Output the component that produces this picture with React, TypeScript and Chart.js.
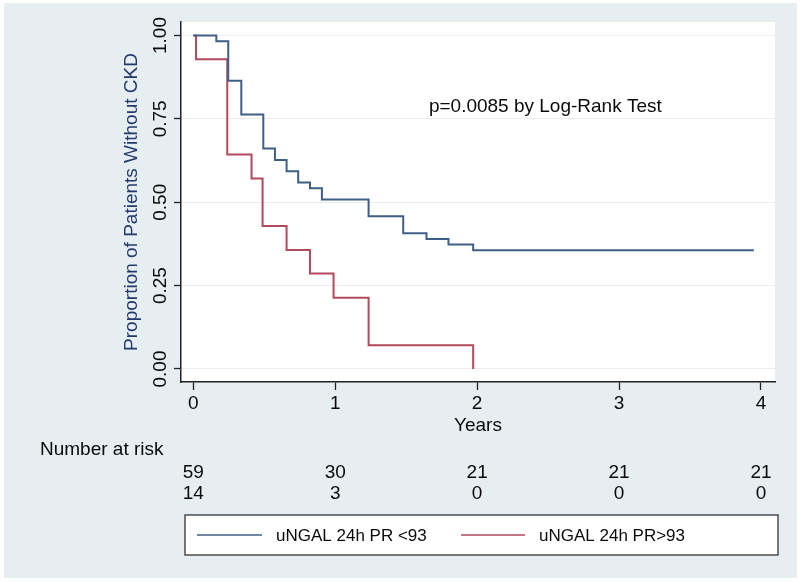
import React, { useEffect, useRef } from "react";
import { Chart, registerables } from "chart.js";

Chart.register(...registerables);

// ---- Data ----
const lowLabel = "uNGAL 24h PR <93";
const highLabel = "uNGAL 24h PR>93";

const lowTimes = [0, 0.162, 0.246, 0.338, 0.493, 0.575, 0.657, 0.739, 0.822, 0.906, 1.235, 1.479, 1.643, 1.798, 1.972, 3.95];
const lowSurv = [1, 0.983, 0.864, 0.763, 0.661, 0.627, 0.593, 0.559, 0.542, 0.508, 0.458, 0.407, 0.39, 0.373, 0.356, 0.356];

const highTimes = [0, 0.019, 0.239, 0.41, 0.488, 0.657, 0.822, 0.988, 1.235, 1.972];
const highSurv = [1, 0.929, 0.643, 0.571, 0.429, 0.357, 0.286, 0.214, 0.071, 0];

const xTicks = [0, 1, 2, 3, 4];
const yTicks = [0, 0.25, 0.5, 0.75, 1];

const riskTimes = [0, 1, 2, 3, 4];
const riskLow = [59, 30, 21, 21, 21];
const riskHigh = [14, 3, 0, 0, 0];

const pText = "p=0.0085 by Log-Rank Test";
const pTextX = 1.66;
const pTextY = 0.77;

const BLUE = "#3f5f86";
const RED = "#b24a5c";
const BG = "#e6eef2";
const TEXT = "#0a0a0a";
const FONT = "'Liberation Sans', Arial, Helvetica, sans-serif";

const decorPlugin = {
  id: "decor",
  beforeDraw(chart: any) {
    const { ctx, chartArea } = chart;
    ctx.save();
    ctx.fillStyle = "#ffffff";
    ctx.fillRect(0, 0, chart.width, chart.height);
    ctx.fillStyle = BG;
    ctx.fillRect(4, 3, 793, 575);
    ctx.fillStyle = "#ffffff";
    ctx.fillRect(chartArea.left, chartArea.top, chartArea.right - chartArea.left, chartArea.bottom - chartArea.top);
    ctx.restore();
  },
  afterDraw(chart: any) {
    const { ctx } = chart;
    const xs = chart.scales.x;
    const ys = chart.scales.y;
    ctx.save();
    // y tick labels, rotated
    ctx.fillStyle = TEXT;
    ctx.font = `19px ${FONT}`;
    ctx.textAlign = "center";
    ctx.textBaseline = "middle";
    yTicks.forEach((v) => {
      const y = ys.getPixelForValue(v);
      ctx.save();
      ctx.translate(ys.right - 20.5, y);
      ctx.rotate(-Math.PI / 2);
      ctx.fillText(v.toFixed(2), 0, 0);
      ctx.restore();
    });
    // p-value annotation
    ctx.textAlign = "left";
    ctx.textBaseline = "alphabetic";
    ctx.fillText(pText, xs.getPixelForValue(pTextX), ys.getPixelForValue(pTextY));
    // Number at risk
    ctx.textBaseline = "middle";
    ctx.fillText("Number at risk", 40, 450);
    ctx.textAlign = "center";
    riskTimes.forEach((t, i) => {
      const x = xs.getPixelForValue(t);
      ctx.fillText(String(riskLow[i]), x, 473);
      ctx.fillText(String(riskHigh[i]), x, 494);
    });
    // Legend
    const bx = 185, by = 515, bw = 593, bh = 40;
    ctx.fillStyle = "#ffffff";
    ctx.fillRect(bx, by, bw, bh);
    ctx.strokeStyle = "#333";
    ctx.lineWidth = 1.3;
    ctx.strokeRect(bx, by, bw, bh);
    const ds = chart.data.datasets;
    const items = [
      { x1: 197, x2: 262, tx: 276 },
      { x1: 461, x2: 525, tx: 539 },
    ];
    ctx.font = `17px ${FONT}`;
    ctx.textAlign = "left";
    ctx.textBaseline = "middle";
    items.forEach((it, i) => {
      ctx.strokeStyle = ds[i].borderColor;
      ctx.lineWidth = 1.6;
      ctx.beginPath();
      ctx.moveTo(it.x1, by + bh / 2);
      ctx.lineTo(it.x2, by + bh / 2);
      ctx.stroke();
      ctx.fillStyle = TEXT;
      ctx.fillText(ds[i].label, it.tx, by + bh / 2 + 1);
    });
    ctx.restore();
  },
};

export default function App() {
  const ref = useRef<HTMLCanvasElement | null>(null);
  useEffect(() => {
    document.body.style.margin = "0";
    if (!ref.current) return;
    Chart.defaults.font.family = FONT;
    const chart = new Chart(ref.current, {
      type: "line",
      data: {
        datasets: [
          {
            label: lowLabel,
            data: lowTimes.map((t, i) => ({ x: t, y: lowSurv[i] })),
            stepped: "before",
            borderColor: BLUE,
            borderWidth: 2,
            pointRadius: 0,
            fill: false,
          },
          {
            label: highLabel,
            data: highTimes.map((t, i) => ({ x: t, y: highSurv[i] })),
            stepped: "before",
            borderColor: RED,
            borderWidth: 2,
            pointRadius: 0,
            fill: false,
          },
        ],
      },
      options: {
        animation: false,
        responsive: false,
        maintainAspectRatio: false,
        layout: { padding: { left: 118, top: 22, right: 25, bottom: 143 } },
        plugins: { legend: { display: false }, tooltip: { enabled: false } },
        scales: {
          x: {
            type: "linear",
            min: -0.087,
            max: 4.099,
            afterBuildTicks: (s: any) => {
              s.ticks = xTicks.map((v) => ({ value: v }));
            },
            afterFit: (s: any) => {
              s.height = 57;
            },
            grid: { drawOnChartArea: false, drawTicks: true, tickLength: 8, tickColor: "#222", tickWidth: 1.3 },
            border: { display: true, color: "#222", width: 1.5 },
            ticks: { color: TEXT, font: { size: 19 }, padding: 2, maxRotation: 0, minRotation: 0, callback: (v: any) => String(v) },
            title: { display: true, text: "Years", color: TEXT, font: { size: 19 }, padding: { top: 0, bottom: 2 } },
          },
          y: {
            type: "linear",
            min: -0.039,
            max: 1.0405,
            afterBuildTicks: (s: any) => {
              s.ticks = yTicks.map((v) => ({ value: v }));
            },
            afterFit: (s: any) => {
              s.width = 63;
            },
            grid: { color: "#ececec", lineWidth: 1, drawTicks: true, tickLength: 7, tickColor: "#222", tickWidth: 1.3 },
            border: { display: true, color: "#222", width: 1.5 },
            ticks: { display: false },
            title: { display: true, text: "Proportion of Patients Without CKD", color: "#22386a", font: { size: 19 }, padding: { top: 2, bottom: 0 } },
          },
        },
      },
      plugins: [decorPlugin],
    });
    return () => chart.destroy();
  }, []);
  return (
    <div style={{ width: 800, height: 582 }}>
      <canvas ref={ref} width={800} height={582} style={{ display: "block" }} />
    </div>
  );
}
